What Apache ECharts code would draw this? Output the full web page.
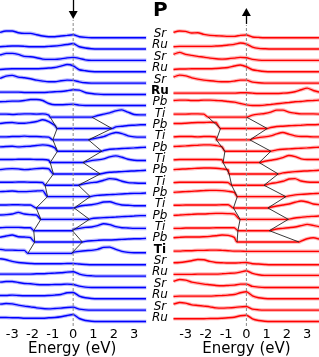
<!DOCTYPE html>
<html><head><meta charset="utf-8">
<script src="https://cdn.jsdelivr.net/npm/echarts@6/dist/echarts.min.js"></script>
<style>html,body{margin:0;padding:0;background:#fff}#c{width:319px;height:357px}</style>
</head><body><div id="c"></div>
<script>
// ---- data ----
const energies = [-3.6,-3.3,-3.0,-2.7,-2.4,-2.1,-1.8,-1.5,-1.2,-0.9,-0.6,-0.3,0,0.3,0.6,0.9,1.2,1.5,1.8,2.1,2.4,2.7,3.0,3.3,3.6];
const layers = ['Sr','Ru','Sr','Ru','Sr','Ru','Pb','Ti','Pb','Ti','Pb','Ti','Pb','Ti','Pb','Ti','Pb','Ti','Pb','Ti','Sr','Ru','Sr','Ru','Sr','Ru'];
const interfaceLayers = [5, 19];
const tickValues = [-3,-2,-1,0,1,2,3];
const fermiLevel = 0;
const firstGapLayer = 7;
// band edges (eV), layers 7..19 (spin down) and 7..18 (spin up)
const vbmDown = [-1.13,-0.79,-1.0,-0.77,-1.13,-0.97,-1.38,-1.26,-1.82,-1.59,-1.94,-1.89,-2.23];
const cbmDown = [0.92,1.91,0.75,1.41,0.48,1.33,0.26,0.84,0.05,0.8,-0.04,0.45,-0.08];
const vbmUp = [-1.89,-1.28,-1.48,-1.06,-1.15,-0.85,-0.73,-0.45,-0.64,-0.31,-0.42,-0.46];
const cbmUp = [0.01,1.03,0.17,1.21,0.63,1.57,0.87,1.95,1.06,2.07,1.13,2.6];
// layer-resolved DOS (arb. units), spin down (left panel)
const dosDown = [
[5.3,6.7,6.7,5,4.3,4.3,3,1.7,1,1,1.7,2.3,3,1,0.3,0,0,0,0,0,0,0,0,0,0],
[2.3,2.7,3,3,2.7,2.3,2.3,2.3,2.7,3,3.7,4.5,5.5,2.3,1,0.3,0,0,0,0,0,0,0,0,0],
[5.3,7,7,6,4,3.7,2.7,1.3,1,1,1.5,2.5,3,2,0.5,0,0,0,0,0,0,0,0,0,0],
[2.3,2.7,3,3,3,3,3,3.3,3.7,4.3,5.7,7.3,6,2,1,0.3,0,0,0,0,0,0,0,0,0],
[4.7,7,7.7,6,5.3,4.3,3,2,1.3,1.3,2.3,3,2.7,1.3,0.3,0,0,0,0,0,0,0,0,0,0],
[2.3,2.3,2.3,2.3,2,2,2,2,2.3,2.7,3,3.7,4.7,4.3,2,1,0.3,0,0,0,0,0,0,0,0],
[4,4.3,4.7,4.7,5.3,6.3,6.3,5.3,2.3,1,1,1.3,1.7,0.7,0.3,0.3,0.3,0.3,0.3,0.3,0.3,0.3,0.3,0.3,0.3],
[3,3,2.7,3,3.3,3.3,3,3.3,2,0,0,0,0,0,0,0,1.7,3,4.3,6.3,7.3,5,2.7,2.3,2.3],
[5,5.7,6,5.3,5.3,6,7,8.7,7,3,0,0,0,0,0,0,0,0,0,1.7,2.3,3,3.3,3.7,3.7],
[3,3,3.3,3.3,3.7,3.3,3.3,3,2.7,0,0,0,0,0,0,0.7,2,3.3,5.7,7.3,6.3,4,3,2.7,2.7],
[4.3,4.7,5,4.3,4.7,5,5.7,6.3,5.7,3.3,0,0,0,0,0,0,0,0.7,2,2.3,2.7,3,3.3,3.7,4],
[3,3,3,3.3,3.3,3.3,3,3,2.3,0,0,0,0,0,0.7,2,2.7,3.7,5.7,6.7,5.3,3.3,2.3,2,2],
[4.3,5,5.3,5,4.3,4.7,5.3,5.7,5,0,0,0,0,0,0,0,0,0.7,1.7,2,2.3,2.7,3,3.3,3.7],
[3,3,3,3.3,3.3,3,3,2.7,0,0,0,0,0,0.3,1.7,2.7,3.3,5,6.7,6,4,2.7,2.3,2,2],
[5,5.3,5.7,5,5,5.3,5.7,6,0,0,0,0,0,0,0,0.3,1.3,1.7,2,2.3,2.7,3,3.3,3.3,3.7],
[3,3,3.3,3.3,3,3,0,0,0,0,0,0,0,1.7,2.7,3.3,4.3,6,6.3,4.3,3,2.7,2.3,2.3,2.3],
[4.3,4.7,5.3,7,5.3,4.7,4.3,0,0,0,0,0,0,0,0,0.7,1.3,1.7,2,2.3,2.7,3,3.3,3.7,3.7],
[3,3.3,3.3,3.3,3,3,0,0,0,0,0,0,1.3,2.3,3.3,3.7,5,7,6,4,3,2.7,2.3,2.3,2.3],
[4.7,6,7,5.3,5,4.3,0,0,0,0,0,0,0,0,0.7,1.3,1.7,2,2,2.3,2.7,3,3.3,3.3,3.7],
[4,3.3,3.3,3,3,0,0,0,0,0,0,0,1,2,2.7,3,4,6,6.3,4,2,1,0.7,0.7,0.7],
[6,5,3.3,2.3,1.7,1.3,1,1,1,1,1,1.3,1.3,0.7,0.3,0,0,0,0,0,0,0,0,0,0],
[2,2,2,2,2,2,2.3,2.3,2.7,3,3.3,4,4.3,2,0.7,0.3,0,0,0,0,0,0,0,0,0],
[5.3,6,6,5,4,3.7,3,2.7,2.7,3,3,3.3,3,1.3,0.3,0,0,0,0,0,0,0,0,0,0],
[3.3,3.3,3.7,3.3,3,3,3,3,3.3,3.7,4.3,6,6.3,2.7,1,0.3,0,0,0,0,0,0,0,0,0],
[6,6.7,6.3,5,4,3.3,2.3,1.7,1.3,1.7,2,2.7,3,1,0.3,0,0,0,0,0,0,0,0,0,0],
[4,4,3.7,3.7,3.3,3.3,3.3,3.3,3.7,4,4.7,6,7,3,1,0.3,0,0,0,0,0,0,0,0,0]
];
// layer-resolved DOS (arb. units), spin up (right panel)
const dosUp = [
[5.3,6.7,6.3,4.7,5,3.3,2.3,2,1.7,1.3,1.3,2.3,2.7,0.7,0.3,0,0,0,0,0,0,0,0,0,0],
[2.3,2.7,2.7,2.7,2.7,2.7,2.7,3,3.3,4,4.7,6,5,2,0.7,0.3,0,0,0,0,0,0,0,0,0],
[6,8,6,5,4,3.3,2.3,1.7,1.3,1.7,2.3,3,2.7,1,0.3,0,0,0,0,0,0,0,0,0,0],
[2.3,2.7,2.7,3,3,3,3,3.3,3.7,4.3,5.7,6.7,5,2,1,0.3,0,0,0,0,0,0,0,0,0],
[6,8,7.3,5.3,4,3,2.3,1.7,1.3,1.3,2,3,3,1,0.3,0,0,0,0,0,0,0,0,0,0],
[1.3,1.3,1.3,1.3,1.3,1.3,1.3,1.3,1.3,1.3,1.3,1.7,1.7,1.3,1,1,1,1,1.3,1.7,2.7,4.7,6.3,4,2.3],
[5.3,5.7,5.7,5.3,5.3,5.7,5.7,5.3,5,4.3,3.7,2.3,1,0.3,0.3,0.7,1.3,2,2.7,3.3,4,4.3,5,5.3,5.7],
[3,3,3,3.3,3.3,3,0,0,0,0,0,0,0,2,3,3.7,5,7,7,5,4,3.3,3.3,3.3,3],
[5,5,5.3,5.7,6,6,6.3,6,0,0,0,0,0,0,0,0,1,2,2.3,2.7,3,3.3,3.7,3.7,4],
[3,3.3,3.3,3.3,3,3.3,3.3,2.7,0,0,0,0,0,1,2.3,3,4,6,7.3,5.7,4,3.3,3.3,3,3],
[4.7,5,5.3,5.7,6,6.3,6.3,5.7,4.3,0,0,0,0,0,0,0,0,1.3,2,2.3,2.7,3,3.3,3.7,4],
[2.7,3,3,3,3,3,3,3,2.7,0,0,0,0,0,0,1.3,2.3,3.3,5,7,6,3.7,3,3,3],
[4.3,4.7,5,5.3,5.7,6,6,5.7,5,4,0,0,0,0,0,0,0,0,1,1.7,2.3,2.7,3,3.3,3.7],
[2.7,3,3,3,3,3,3,3,3,2.7,0,0,0,0,0,0.3,1.7,2.7,4,6.3,6.7,4.3,3.3,3,3],
[4.3,4.7,5,5.3,5.7,6,6.3,6.3,6,5.3,4.3,0,0,0,0,0,0,0,0,0.7,1.7,2.3,2.7,3,3.3],
[2.7,2.7,3,3,3,3,3,3,3.3,3.3,0,0,0,0,0,0,0.7,2,3,4,5.7,7,6,4,3.3],
[4,4.3,4.7,5,5.3,5.3,5.7,6,6,5.7,5.3,0,0,0,0,0,0,0,0,0.3,1.3,2,2.7,3,3.3],
[2.3,2.3,2.7,2.7,2.7,2.7,2.7,3,3,3,3,0,0,0,0,0,0.3,1.7,2.3,3,3.7,5,6.3,5.3,4],
[4.3,4.7,5,5,5,5.3,5.7,6.3,7,6.7,4.7,0,0,0,0,0,0,0,0,0,0,1,3.3,4.3,3],
[2.3,2.3,2.7,2.7,3,3,3.3,3.3,3,2.7,2.3,2.3,2,2,2,2,2,2,2,2,2,2,2,2,2],
[2,2.3,3,4,5.3,5,3.3,2.3,2,1.7,1.7,2,2.3,1,0.7,0.3,0,0,0,0,0,0,0,0,0],
[1.7,1.7,1.7,1.7,2,2,2,2,2.3,2.7,3,4,5.3,2.7,1.3,0.7,0.7,0.7,0.7,0.7,0.7,0.7,0.7,0.7,0.7],
[6,8,7.3,5.3,4.3,3.3,2.7,2,1.7,2,2.3,3.3,3.3,1,0.3,0,0,0,0,0,0,0,0,0,0],
[2.3,2.7,2.7,2.7,2.7,2.7,2.7,3,3.3,3.7,4.3,6,7,3,1,0.3,0,0,0,0,0,0,0,0,0],
[6,7.7,7,5.3,4.7,4,3.3,2.3,2,2.3,2.7,3.3,3.7,1,0.3,0,0,0,0,0,0,0,0,0,0],
[2.7,2.7,2.7,2.7,2.7,2.7,3,3,3.3,3.7,4.3,5.7,6.3,2.7,1,0.3,0,0,0,0,0,0,0,0,0]
];

// ---- layout constants ----
const layerStep = 11.35;
const nL = layers.length;
const yMin = -5.7, yMax = 321.45;
const baseY = i => (nL - 1 - i) * layerStep;

function curveData(dos, i, vbm, cbm) {
  const out = [];
  const b = baseY(i);
  const g = i - firstGapLayer;
  const hasGap = g >= 0 && g < vbm.length;
  if (!hasGap) { energies.forEach((e,k)=>out.push([e, b + dos[k]])); return out; }
  energies.forEach((e,k)=>{ if (e < vbm[g]) out.push([e, b + dos[k]]); });
  out.push([vbm[g], b], [cbm[g], b]);
  energies.forEach((e,k)=>{ if (e > cbm[g]) out.push([e, b + dos[k]]); });
  return out;
}
function edgeLine(edges) {
  return edges.map((e,g)=>[e, baseY(g + firstGapLayer)]);
}

const series = [];
const panels = [
  {dos: dosDown, vbm: vbmDown, cbm: cbmDown, main: '#0000ff', halo: '#5c5cff'},
  {dos: dosUp, vbm: vbmUp, cbm: cbmUp, main: '#ff0000', halo: '#ff5c5c'}
];
panels.forEach((p, pi) => {
  p.dos.forEach((d, i) => {
    const data = curveData(d, i, p.vbm, p.cbm);
    series.push({type:'line', xAxisIndex:pi, yAxisIndex:pi, data, symbol:'none', silent:true,
      smooth:0.2, lineStyle:{color:p.halo, width:3.6, opacity:0.45}, z:1});
    series.push({type:'line', xAxisIndex:pi, yAxisIndex:pi, data, symbol:'none', silent:true,
      smooth:0.2, lineStyle:{color:p.main, width:1.4}, z:2});
  });
  series.push({type:'line', xAxisIndex:pi, yAxisIndex:pi, data: edgeLine(p.vbm), symbol:'none', silent:true,
    lineStyle:{color:'#222', width:0.9}, z:5});
  series.push({type:'line', xAxisIndex:pi, yAxisIndex:pi, data: edgeLine(p.cbm), symbol:'none', silent:true,
    lineStyle:{color:'#222', width:0.9}, z:5});
});
// Fermi level dashed lines + spin arrows
series.push({type:'line', xAxisIndex:0, yAxisIndex:0, data:[[fermiLevel,-4.5],[fermiLevel,301.5]], symbol:'none', silent:true,
  lineStyle:{color:'#888', width:1, type:[3,2]}, z:3,
  markLine:{silent:true, symbol:['none','triangle'], symbolSize:[9,8], label:{show:false},
    lineStyle:{color:'#000', width:1.3, type:'solid'},
    data:[[{coord:[fermiLevel,321.45]},{coord:[fermiLevel,306.5]}]]}});
series.push({type:'line', xAxisIndex:1, yAxisIndex:1, data:[[fermiLevel,-4.5],[fermiLevel,296.5]], symbol:'none', silent:true,
  lineStyle:{color:'#888', width:1, type:[3,2]}, z:3,
  markLine:{silent:true, symbol:['none','triangle'], symbolSize:[9,8], label:{show:false},
    lineStyle:{color:'#000', width:1.3, type:'solid'},
    data:[[{coord:[fermiLevel,297.5]},{coord:[fermiLevel,309.5]}]]}});

const FONT = 'DejaVu Sans';
function xAx(gi, mn, mx) {
  return {gridIndex:gi, type:'value', min:mn, max:mx,
    axisLine:{show:false}, axisTick:{show:false}, splitLine:{show:false},
    axisLabel:{customValues:tickValues, formatter:v=>String(v), color:'#000', fontSize:13, fontFamily:FONT, margin:1},
    name:'Energy (eV)', nameLocation:'middle', nameGap:14, nameMoveOverlap:false,
    nameTextStyle:{color:'#000', fontSize:15, fontFamily:FONT}};
}
function yAx(gi) {
  return {gridIndex:gi, type:'value', min:yMin, max:yMax, show:false};
}
const option = {
  animation:false,
  backgroundColor:'#fff',
  title:{text:'P', left:153, top:1, padding:0, textStyle:{fontSize:20, fontWeight:'bold', fontFamily:FONT, color:'#000'}},
  grid:[
    {left:0, top:0, width:144.3, height:327.2, outerBoundsMode:'none', containLabel:false},
    {left:174.5, top:0, width:143.8, height:327.2, outerBoundsMode:'none', containLabel:false},
    {left:160, top:28.3, width:1, height:295.1, outerBoundsMode:'none', containLabel:false}
  ],
  xAxis:[xAx(0,-3.6,3.5), xAx(1,-3.55,3.55), {gridIndex:2, type:'value', show:false}],
  yAxis:[yAx(0), yAx(1), {gridIndex:2, type:'category', data:layers, inverse:true,
    axisLine:{show:false}, axisTick:{show:false}, splitLine:{show:false},
    axisLabel:{margin:0, align:'center', interval:0,
      formatter:(v, idx)=> interfaceLayers.includes(idx) ? '{b|'+v+'}' : '{i|'+v+'}',
      rich:{i:{fontStyle:'italic', fontSize:12, fontFamily:FONT, color:'#000'},
            b:{fontWeight:'bold', fontSize:12, fontFamily:FONT, color:'#000'}}}}],
  series
};
const chart = echarts.init(document.getElementById('c'), null, {renderer:'canvas'});
chart.setOption(option);
</script>
</body></html>
